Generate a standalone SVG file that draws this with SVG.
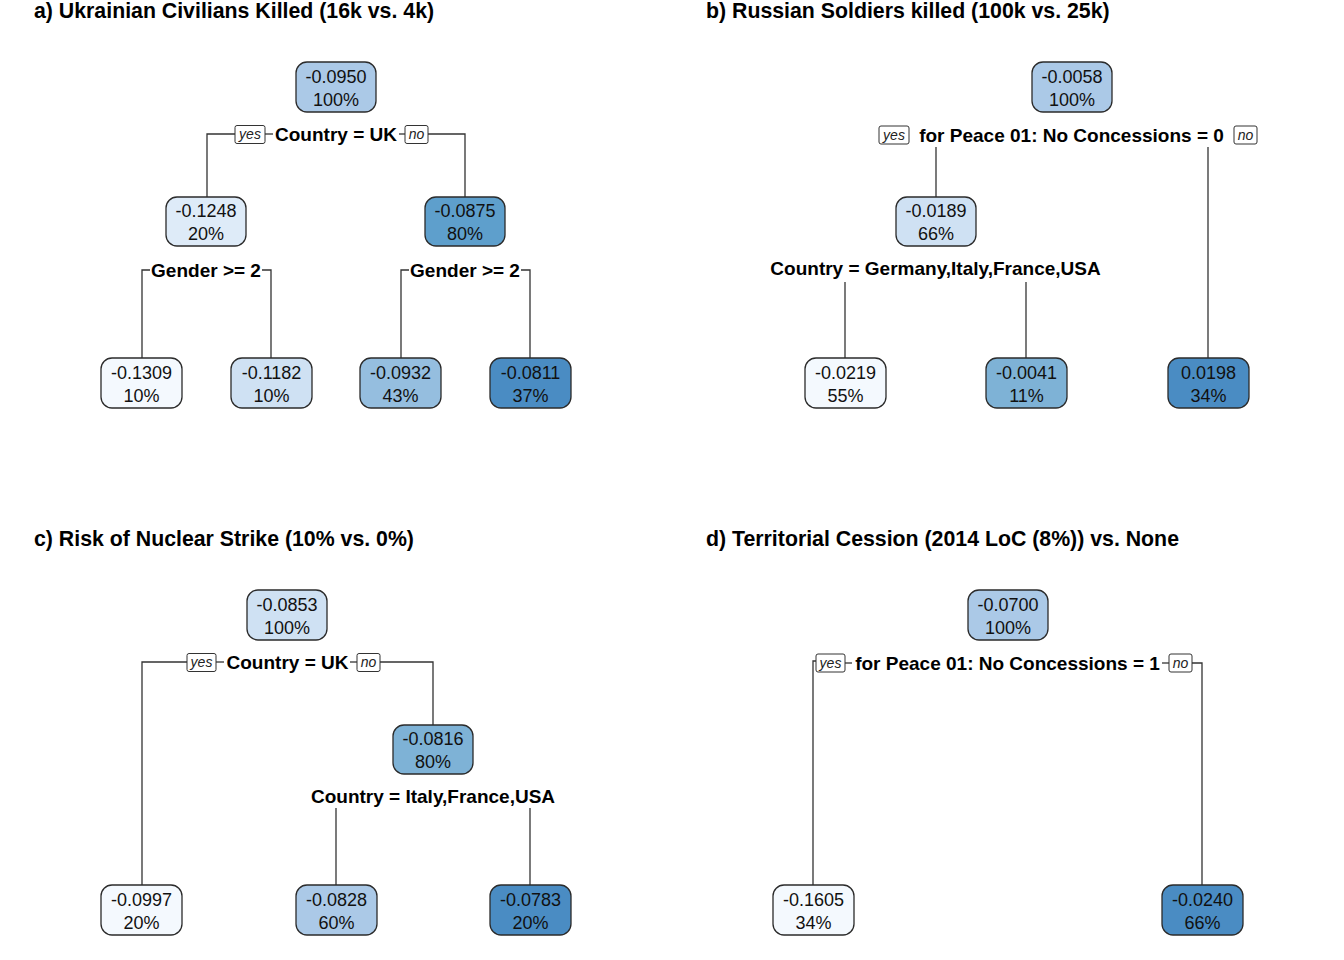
<svg xmlns="http://www.w3.org/2000/svg" width="1344" height="960" viewBox="0 0 1344 960">
<style>
.bg{fill:#fff}
.title{font-family:"Liberation Sans",Arial,sans-serif;font-size:21.3px;font-weight:bold;fill:#000}
.box{stroke:#2b2b2b;stroke-width:1.3}
.v{font-family:"Liberation Sans",Arial,sans-serif;font-size:18px;fill:#111;text-anchor:middle}
.split{font-family:"Liberation Sans",Arial,sans-serif;font-size:19px;font-weight:bold;fill:#000;text-anchor:middle}
.yn{fill:#fff;stroke:#333;stroke-width:1}
.ynt{font-family:"Liberation Sans",Arial,sans-serif;font-size:14px;font-style:italic;fill:#222;text-anchor:middle}
.edge{fill:none;stroke:#333;stroke-width:1.3}
.c0{fill:#F4F9FE}.c1{fill:#DEEBF8}.c2{fill:#CFE1F3}.c3{fill:#ABC9E7}.c4{fill:#95BEDF}.c5{fill:#7EB2D6}.c6{fill:#5E9FCC}.c7{fill:#4A8CC3}
</style>
<rect class="bg" width="1344" height="960"/>

<text class="title" x="34" y="18">a) Ukrainian Civilians Killed (16k vs. 4k)</text>
<text class="title" x="706" y="18">b) Russian Soldiers killed (100k vs. 25k)</text>
<text class="title" x="34" y="546">c) Risk of Nuclear Strike (10% vs. 0%)</text>
<text class="title" x="706" y="546">d) Territorial Cession (2014 LoC (8%)) vs. None</text>

<g id="connectors">
  <!-- a -->
  <path class="edge" d="M235,134 H207 V197"/>
  <path class="edge" d="M265,134 H273"/>
  <path class="edge" d="M399,134 H405"/>
  <path class="edge" d="M428,134 H465 V197"/>
  <path class="edge" d="M150,270 H142 V358"/>
  <path class="edge" d="M262,270 H271 V358"/>
  <path class="edge" d="M409,270 H401 V358"/>
  <path class="edge" d="M521,270 H530 V358"/>
  <!-- b -->
  <path class="edge" d="M936,147 V197"/>
  <path class="edge" d="M1208,147 V358"/>
  <path class="edge" d="M845,282 V358"/>
  <path class="edge" d="M1026,282 V358"/>
  <!-- c -->
  <path class="edge" d="M187,662 H142 V885"/>
  <path class="edge" d="M216,662 H224"/>
  <path class="edge" d="M350,662 H357"/>
  <path class="edge" d="M380,662 H433 V725"/>
  <path class="edge" d="M336,808 V885"/>
  <path class="edge" d="M530,808 V885"/>
  <!-- d -->
  <path class="edge" d="M816,661 H813 V885"/>
  <path class="edge" d="M845,663 H852"/>
  <path class="edge" d="M1162,663 H1169"/>
  <path class="edge" d="M1192,663 H1202 V885"/>
</g>

<!-- Panel a -->
<g id="a-root"><rect class="box c3" x="296" y="62" width="80" height="50" rx="11"/><text class="v" x="336" y="83">-0.0950</text><text class="v" x="336" y="106">100%</text></g>
<g id="a-split1"><rect class="yn" x="235" y="125.5" width="30" height="18" rx="2"/><text class="ynt" x="250" y="139">yes</text><text class="split" x="336" y="141">Country = UK</text><rect class="yn" x="405" y="125.5" width="23" height="18" rx="2"/><text class="ynt" x="416.5" y="139">no</text></g>
<g id="a-n2"><rect class="box c1" x="166" y="197" width="80" height="49" rx="11"/><text class="v" x="206" y="217">-0.1248</text><text class="v" x="206" y="240">20%</text></g>
<g id="a-n3"><rect class="box c6" x="425" y="197" width="80" height="49" rx="11"/><text class="v" x="465" y="217">-0.0875</text><text class="v" x="465" y="240">80%</text></g>
<g id="a-split2"><text class="split" x="206" y="277">Gender &gt;= 2</text></g>
<g id="a-split3"><text class="split" x="465" y="277">Gender &gt;= 2</text></g>
<g id="a-l1"><rect class="box c0" x="101" y="358" width="81" height="50" rx="11"/><text class="v" x="141.5" y="379">-0.1309</text><text class="v" x="141.5" y="402">10%</text></g>
<g id="a-l2"><rect class="box c2" x="231" y="358" width="81" height="50" rx="11"/><text class="v" x="271.5" y="379">-0.1182</text><text class="v" x="271.5" y="402">10%</text></g>
<g id="a-l3"><rect class="box c4" x="360" y="358" width="81" height="50" rx="11"/><text class="v" x="400.5" y="379">-0.0932</text><text class="v" x="400.5" y="402">43%</text></g>
<g id="a-l4"><rect class="box c7" x="490" y="358" width="81" height="50" rx="11"/><text class="v" x="530.5" y="379">-0.0811</text><text class="v" x="530.5" y="402">37%</text></g>

<!-- Panel b -->
<g id="b-root"><rect class="box c3" x="1032" y="62" width="80" height="50" rx="11"/><text class="v" x="1072" y="83">-0.0058</text><text class="v" x="1072" y="106">100%</text></g>
<g id="b-split1"><rect class="yn" x="879" y="126" width="30" height="18" rx="2"/><text class="ynt" x="894" y="139.5">yes</text><text class="split" x="1071.5" y="142">for Peace 01: No Concessions = 0</text><rect class="yn" x="1234" y="126" width="23" height="18" rx="2"/><text class="ynt" x="1245.5" y="139.5">no</text></g>
<g id="b-n2"><rect class="box c2" x="896" y="197" width="80" height="49" rx="11"/><text class="v" x="936" y="217">-0.0189</text><text class="v" x="936" y="240">66%</text></g>
<g id="b-split2"><text class="split" x="935.5" y="275">Country = Germany,Italy,France,USA</text></g>
<g id="b-l1"><rect class="box c0" x="805" y="358" width="81" height="50" rx="11"/><text class="v" x="845.5" y="379">-0.0219</text><text class="v" x="845.5" y="402">55%</text></g>
<g id="b-l2"><rect class="box c5" x="986" y="358" width="81" height="50" rx="11"/><text class="v" x="1026.5" y="379">-0.0041</text><text class="v" x="1026.5" y="402">11%</text></g>
<g id="b-l3"><rect class="box c7" x="1168" y="358" width="81" height="50" rx="11"/><text class="v" x="1208.5" y="379">0.0198</text><text class="v" x="1208.5" y="402">34%</text></g>

<!-- Panel c -->
<g id="c-root"><rect class="box c2" x="247" y="590" width="80" height="50" rx="11"/><text class="v" x="287" y="611">-0.0853</text><text class="v" x="287" y="634">100%</text></g>
<g id="c-split1"><rect class="yn" x="187" y="653.5" width="29" height="18" rx="2"/><text class="ynt" x="201.5" y="667">yes</text><text class="split" x="287.5" y="669">Country = UK</text><rect class="yn" x="357" y="653.5" width="23" height="18" rx="2"/><text class="ynt" x="368.5" y="667">no</text></g>
<g id="c-n2"><rect class="box c5" x="393" y="725" width="80" height="49" rx="11"/><text class="v" x="433" y="745">-0.0816</text><text class="v" x="433" y="768">80%</text></g>
<g id="c-split2"><text class="split" x="433" y="803">Country = Italy,France,USA</text></g>
<g id="c-l1"><rect class="box c0" x="101" y="885" width="81" height="50" rx="11"/><text class="v" x="141.5" y="906">-0.0997</text><text class="v" x="141.5" y="929">20%</text></g>
<g id="c-l2"><rect class="box c3" x="296" y="885" width="81" height="50" rx="11"/><text class="v" x="336.5" y="906">-0.0828</text><text class="v" x="336.5" y="929">60%</text></g>
<g id="c-l3"><rect class="box c7" x="490" y="885" width="81" height="50" rx="11"/><text class="v" x="530.5" y="906">-0.0783</text><text class="v" x="530.5" y="929">20%</text></g>

<!-- Panel d -->
<g id="d-root"><rect class="box c3" x="968" y="590" width="80" height="50" rx="11"/><text class="v" x="1008" y="611">-0.0700</text><text class="v" x="1008" y="634">100%</text></g>
<g id="d-split1"><rect class="yn" x="816" y="654" width="29" height="18" rx="2"/><text class="ynt" x="830.5" y="667.5">yes</text><text class="split" x="1007.5" y="670">for Peace 01: No Concessions = 1</text><rect class="yn" x="1169" y="654" width="23" height="18" rx="2"/><text class="ynt" x="1180.5" y="667.5">no</text></g>
<g id="d-l1"><rect class="box c0" x="773" y="885" width="81" height="50" rx="11"/><text class="v" x="813.5" y="906">-0.1605</text><text class="v" x="813.5" y="929">34%</text></g>
<g id="d-l2"><rect class="box c7" x="1162" y="885" width="81" height="50" rx="11"/><text class="v" x="1202.5" y="906">-0.0240</text><text class="v" x="1202.5" y="929">66%</text></g>
</svg>
